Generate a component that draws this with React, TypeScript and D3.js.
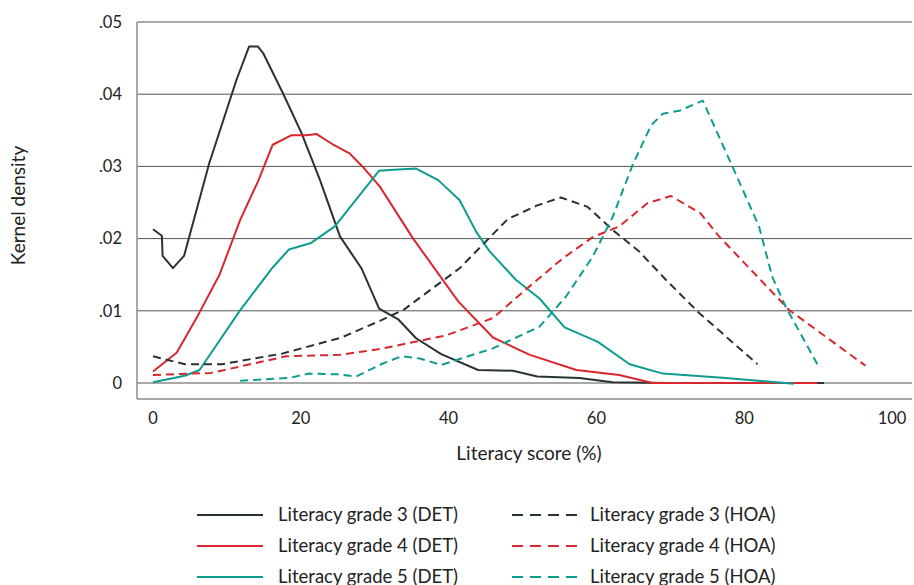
import React from 'react';
import * as d3 from 'd3';

type Pt = [number, number];

// literacy score (%) vs kernel density
const grade3Det: Pt[] = [
  [0, 0.0213], [1.2, 0.0204], [1.3, 0.0176], [2.7, 0.0159], [4.2, 0.0176],
  [7.6, 0.0304], [11.3, 0.042], [13, 0.0466], [14.2, 0.0466], [14.9, 0.0457],
  [17.6, 0.0401], [20.1, 0.0346], [22.6, 0.0281], [25.3, 0.0203], [28.2, 0.0159],
  [30.6, 0.0103], [33.2, 0.0088], [35.6, 0.0062], [39, 0.004], [44, 0.0018],
  [48.7, 0.0017], [52, 0.0009], [57.7, 0.0007], [62.2, 0.0001], [70, 0], [90.8, 0],
];
const grade4Det: Pt[] = [
  [0, 0.0016], [3.2, 0.0042], [6.1, 0.0094], [9, 0.015], [11.8, 0.0226],
  [14.2, 0.0279], [16.2, 0.033], [18.7, 0.0343], [20.8, 0.0343], [22.1, 0.0345],
  [24.4, 0.033], [26.6, 0.0318], [28.6, 0.0297], [30.7, 0.0272], [35.2, 0.02],
  [41.3, 0.0113], [46, 0.0063], [51, 0.0039], [57.3, 0.0018], [63.1, 0.0011],
  [67.6, 0], [89.9, 0],
];
const grade5Det: Pt[] = [
  [0, 0.0001], [4.3, 0.001], [6.3, 0.0018], [11.8, 0.0101], [16.2, 0.016],
  [18.4, 0.0185], [21.4, 0.0194], [24.6, 0.0217], [30.6, 0.0294], [32, 0.0295],
  [35.6, 0.0297], [38.6, 0.0281], [41.5, 0.0253], [43.7, 0.021], [45.5, 0.0183],
  [49.1, 0.0143], [52.3, 0.0117], [55.7, 0.0077], [60.2, 0.0057], [64.5, 0.0026],
  [69, 0.0013], [77.5, 0.0007], [86.7, -0.0001],
];
const grade3Hoa: Pt[] = [
  [0, 0.0037], [4.3, 0.0026], [9.3, 0.0026], [17.6, 0.0041], [25.5, 0.0063],
  [30.7, 0.0086], [34, 0.0102], [41.5, 0.0159], [48, 0.0227], [52, 0.0246],
  [55.2, 0.0257], [58.8, 0.0244], [62.2, 0.0212], [65.8, 0.0182], [69.4, 0.0143],
  [73.9, 0.0097], [81.8, 0.0026],
];
const grade4Hoa: Pt[] = [
  [0, 0.0011], [7.9, 0.0014], [18, 0.0037], [25.3, 0.0039], [30.7, 0.0047],
  [39.7, 0.0066], [46, 0.009], [50.5, 0.013], [55.5, 0.0173], [59.5, 0.0202],
  [63.1, 0.0217], [66.9, 0.0249], [70.1, 0.0259], [74.1, 0.0235], [76.6, 0.0203],
  [86.1, 0.0101], [96.4, 0.0024],
];
const grade5Hoa: Pt[] = [
  [11.8, 0.0003], [18.5, 0.0007], [21, 0.0013], [25, 0.0012], [27.5, 0.0009],
  [31.1, 0.0027], [33.6, 0.0037], [36.1, 0.0034], [39, 0.0025], [46, 0.0048],
  [52.3, 0.0078], [55.9, 0.012], [59.5, 0.0175], [62.2, 0.023], [64.9, 0.0302],
  [67.4, 0.0357], [69, 0.0373], [71.2, 0.0377], [74.4, 0.0391], [78.4, 0.03],
  [82, 0.0217], [83.8, 0.0147], [85.6, 0.0106], [89.9, 0.0026],
];

const xTicks = [0, 20, 40, 60, 80, 100];
const yTicks = [0, 0.01, 0.02, 0.03, 0.04, 0.05];
const yTickLabels = ['0', '.01', '.02', '.03', '.04', '.05'];

const seriesNames = [
  'Literacy grade 3 (DET)', 'Literacy grade 4 (DET)', 'Literacy grade 5 (DET)',
  'Literacy grade 3 (HOA)', 'Literacy grade 4 (HOA)', 'Literacy grade 5 (HOA)',
];
const seriesData = [grade3Det, grade4Det, grade5Det, grade3Hoa, grade4Hoa, grade5Hoa];

const DARK = '#283433';
const RED = '#d6282e';
const TEAL = '#0e9c8e';
const colors = [DARK, RED, TEAL, DARK, RED, TEAL];

const FONT = 'Lato, "Open Sans", sans-serif';

export default function App() {
  const x = d3.scaleLinear().domain([0, 100]).range([153, 892]);
  const y = d3.scaleLinear().domain([0, 0.05]).range([383, 22]);
  const line = d3.line<Pt>().x(d => x(d[0])).y(d => y(d[1]));

  const left = 137, right = 912, bottom = 399;

  return (
    <svg width={914} height={585} style={{ position: 'absolute', left: 0, top: 0 }} fontFamily={FONT}>
      <rect width={914} height={585} fill="#fff" />
      {/* gridlines */}
      {yTicks.map((t, i) => (
        <line key={i} x1={left} x2={right} y1={y(t)} y2={y(t)}
          stroke={i === 0 ? '#8c8c8c' : '#555'} strokeWidth={i === 0 ? 1.5 : 1} />
      ))}
      {/* axes */}
      <line x1={left} x2={left} y1={y(0.05)} y2={bottom} stroke="#8c8c8c" strokeWidth={1.5} />
      <line x1={left} x2={right} y1={bottom} y2={bottom} stroke="#8c8c8c" strokeWidth={1.5} />
      {yTicks.map((t, i) => (
        <text key={i} x={122} y={y(t)} dy="0.35em" textAnchor="end" fontSize={16.5} fill="#222">
          {yTickLabels[i]}
        </text>
      ))}
      {xTicks.map(t => (
        <text key={t} x={x(t)} y={418} dy="0.35em" textAnchor="middle" fontSize={16.5} fill="#222">{t}</text>
      ))}
      <text x={529} y={453} dy="0.35em" textAnchor="middle" fontSize={19} fill="#222">Literacy score (%)</text>
      <text transform={`translate(18, ${y(0.025) + 3}) rotate(-90)`} dy="0.35em" textAnchor="middle" fontSize={19} fill="#222">
        Kernel density
      </text>

      {/* curves */}
      {seriesData.map((d, i) => (
        <path key={i} d={line(d) || ''} fill="none" stroke={colors[i]} strokeWidth={2}
          strokeLinejoin="round" strokeDasharray={i >= 3 ? '8,5' : undefined} />
      ))}

      {/* legend */}
      {seriesNames.map((name, i) => {
        const col = i < 3 ? 0 : 1;
        const row = i % 3;
        const lx = col === 0 ? 197 : 512;
        const ly = 515 + row * 31;
        return (
          <g key={name}>
            <line x1={lx} x2={lx + 66} y1={ly} y2={ly} stroke={colors[i]} strokeWidth={2}
              strokeDasharray={col === 1 ? '11,7' : undefined} />
            <text x={col === 0 ? 278 : 590} y={ly} dy="0.35em" fontSize={18.5} fill="#222">{name}</text>
          </g>
        );
      })}
    </svg>
  );
}
